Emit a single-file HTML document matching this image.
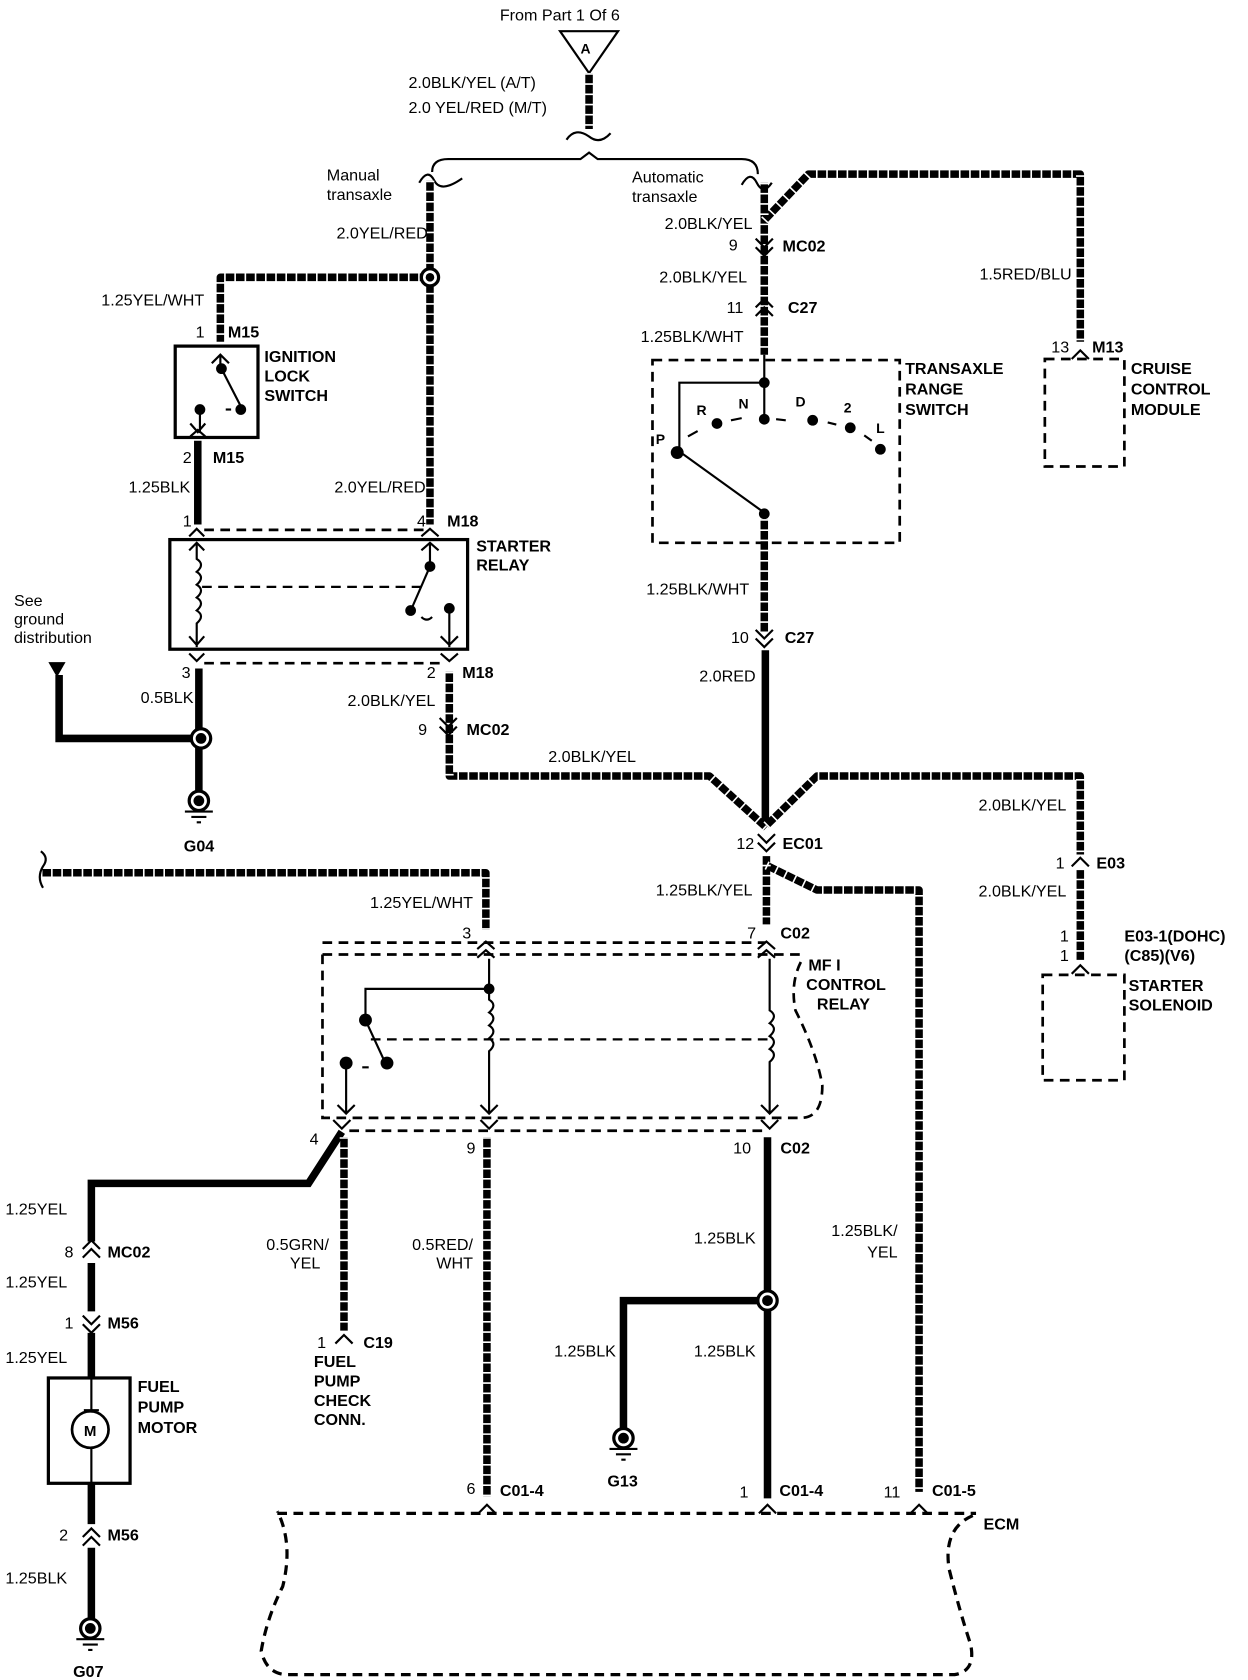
<!DOCTYPE html>
<html><head><meta charset="utf-8"><style>
html,body{margin:0;padding:0;background:#fff}
svg{display:block}
text{font-family:"Liberation Sans",sans-serif;font-size:15px;fill:#000}
.b{font-weight:bold}
.h{fill:none;stroke:#000;stroke-width:7;stroke-linejoin:round}
.hw{fill:none;stroke:#fff;stroke-width:8;stroke-dasharray:1.5 8}
.s{fill:none;stroke:#000;stroke-width:7;stroke-linejoin:miter}
.t{fill:none;stroke:#000;stroke-width:2}
.d{fill:none;stroke:#000;stroke-width:2.5;stroke-dasharray:9 6}
.bx{fill:none;stroke:#000;stroke-width:3}
.c{fill:none;stroke:#000;stroke-width:2}
</style></head><body>
<svg width="1248" height="1680" viewBox="0 0 1161 1563" preserveAspectRatio="none" xmlns="http://www.w3.org/2000/svg">
<!-- top -->
<text x="465" y="19">From Part 1 Of 6</text>
<polygon points="521,29 575,29 548,68" fill="#fff" stroke="#000" stroke-width="2"/>
<text x="540" y="50" class="b" style="font-size:13px">A</text>
<path class="h" d="M548,68 V120"/><path class="hw" d="M548,68 V120"/>
<text x="380" y="82">2.0BLK/YEL (A/T)</text>
<text x="380" y="105">2.0 YEL/RED (M/T)</text>
<path class="t" d="M527,130 q8,-12 21,-3 q10,8 20,-3"/>
<path class="t" d="M402,160 q0,-12 15,-12 H540 l8,-6 l8,6 H690 q15,0 15,14"/>
<path class="t" d="M390,170 q8,-14 14,-2 q6,12 26,-2"/>
<path class="t" d="M690,172 q8,-14 14,-2 q6,12 14,0"/>
<text x="304" y="168">Manual</text><text x="304" y="186">transaxle</text>
<text x="588" y="170">Automatic</text><text x="588" y="188">transaxle</text>

<!-- manual branch -->
<path class="h" d="M400,168 V488 M400,258 H205 V318"/><path class="hw" d="M400,168 V488 M400,258 H205 V318"/>
<circle cx="400" cy="258" r="8" fill="#fff" stroke="#000" stroke-width="3"/><circle cx="400" cy="258" r="4"/>
<text x="398" y="222" text-anchor="end">2.0YEL/RED</text>
<text x="190" y="284" text-anchor="end">1.25YEL/WHT</text>
<text x="182" y="314">1</text><text x="212" y="314" class="b">M15</text>
<rect x="163" y="322" width="77" height="85" class="bx"/>
<path class="c" d="M197,338 l8,-8 l8,8 M205,330 V340"/>
<circle cx="206" cy="343" r="5"/><path class="c" d="M206,343 L224,378"/><circle cx="224" cy="381" r="5"/>
<circle cx="186" cy="381" r="5"/><path class="c" d="M215,381 h-5"/>
<path class="c" d="M186,381 V403 M177,394 l7,8 l7,-8 M177,406 l7,-6 l7,6"/>
<text x="246" y="337" class="b">IGNITION</text><text x="246" y="355" class="b">LOCK</text><text x="246" y="373" class="b">SWITCH</text>
<text x="170" y="431">2</text><text x="198" y="431" class="b">M15</text>
<path class="s" d="M184,410 V488"/>
<text x="177" y="458" text-anchor="end">1.25BLK</text>
<text x="396" y="458" text-anchor="end">2.0YEL/RED</text>
<text x="170" y="490">1</text><text x="388" y="490">4</text><text x="416" y="490" class="b">M18</text>
<path class="d" d="M190,493 H395"/>
<path class="c" d="M176,499 l7,-7 l7,7 M392,499 l8,-7 l8,7"/>
<rect x="158" y="502" width="277" height="102" class="bx"/>
<path class="c" d="M176,512 l7,-7 l7,7 M183,505 V520 q8,5 0,12 q8,5 0,12 q8,5 0,12 q8,5 0,12 q8,5 0,12 V602 M176,592 l7,8 l7,-8"/>
<path class="d" d="M188,546 H395" style="stroke-width:2"/>
<path class="c" d="M392,512 l8,-7 l8,7 M400,505 V525"/>
<circle cx="400" cy="527" r="5"/><path class="c" d="M400,527 L383,566"/><circle cx="382" cy="568" r="5"/>
<circle cx="418" cy="566" r="5"/><path class="c" d="M392,574 q5,5 10,0"/>
<path class="c" d="M418,566 V602 M410,592 l8,8 l8,-8"/>
<text x="443" y="513" class="b">STARTER</text><text x="443" y="531" class="b">RELAY</text>
<path class="c" d="M176,608 l7,7 l7,-7 M410,608 l8,7 l8,-7"/>
<path class="d" d="M190,617 H410"/>
<text x="169" y="631">3</text><text x="397" y="631">2</text><text x="430" y="631" class="b">M18</text>
<path class="s" d="M185,622 V740 M185,687 H55 V628"/>
<polygon points="45,616 61,616 53,630"/>
<circle cx="187" cy="687" r="9" fill="#fff" stroke="#000" stroke-width="3"/><circle cx="187" cy="687" r="5"/>
<text x="13" y="564">See</text><text x="13" y="581">ground</text><text x="13" y="598">distribution</text>
<text x="180" y="654" text-anchor="end">0.5BLK</text>
<circle cx="185" cy="745" r="9" fill="#fff" stroke="#000" stroke-width="3"/><circle cx="185" cy="745" r="5"/>
<path class="c" d="M172,755 H198 M178,760 H192 M183,765 H187"/>
<text x="171" y="792" class="b">G04</text>
<!-- M18 down -->
<path class="h" d="M418,625 V722 H660 L713,770"/><path class="hw" d="M418,625 V722 H660 L713,770"/>
<text x="405" y="657" text-anchor="end">2.0BLK/YEL</text>
<text x="389" y="684">9</text><text x="434" y="684" class="b">MC02</text>
<path class="c" d="M409,668 l8,8 l8,-8 M409,676 l8,8 l8,-8"/>
<text x="510" y="709">2.0BLK/YEL</text>

<!-- automatic -->
<path class="h" d="M711,170 V330 M711,205 L752,162 H1005 V318"/><path class="hw" d="M711,170 V330 M711,205 L752,162 H1005 V318"/>
<text x="700" y="213" text-anchor="end">2.0BLK/YEL</text>
<text x="678" y="233">9</text><text x="728" y="234" class="b">MC02</text>
<path class="c" d="M703,222 l8,8 l8,-8 M703,230 l8,8 l8,-8"/>
<text x="695" y="263" text-anchor="end">2.0BLK/YEL</text>
<text x="676" y="291">11</text><text x="733" y="291" class="b">C27</text>
<path class="c" d="M703,286 l8,-8 l8,8 M703,294 l8,-8 l8,8"/>
<text x="596" y="318">1.25BLK/WHT</text>
<text x="997" y="260" text-anchor="end">1.5RED/BLU</text>
<text x="978" y="328">13</text><text x="1016" y="328" class="b">M13</text>
<path class="c" d="M997,334 l8,-8 l8,8"/>
<path class="d" d="M972,334 H1046 V434 H972 Z"/>
<text x="1052" y="348" class="b">CRUISE</text><text x="1052" y="367" class="b">CONTROL</text><text x="1052" y="386" class="b">MODULE</text>
<!-- range switch -->
<path class="d" d="M607,335 H837 V505 H607 Z"/>
<path class="c" d="M711,330 V390 M711,356 H632 V420 L711,477 V485"/>
<circle cx="711" cy="356" r="5"/><circle cx="711" cy="390" r="5"/>
<circle cx="630" cy="421" r="6"/><circle cx="667" cy="394" r="5"/><circle cx="756" cy="391" r="5"/><circle cx="791" cy="398" r="5"/><circle cx="819" cy="418" r="5"/><circle cx="711" cy="478" r="5"/>
<path class="c" d="M640,406 l9,-5 M680,391 l10,-2 M722,390 l9,1 M770,393 l8,2 M804,405 l7,5"/>
<text x="610" y="413" class="b" style="font-size:13px">P</text>
<text x="648" y="386" class="b" style="font-size:13px">R</text>
<text x="687" y="380" class="b" style="font-size:13px">N</text>
<text x="740" y="378" class="b" style="font-size:13px">D</text>
<text x="785" y="384" class="b" style="font-size:13px">2</text>
<text x="815" y="403" class="b" style="font-size:13px">L</text>
<text x="842" y="348" class="b">TRANSAXLE</text><text x="842" y="367" class="b">RANGE</text><text x="842" y="386" class="b">SWITCH</text>
<path class="h" d="M711,483 V588"/><path class="hw" d="M711,483 V588"/>
<text x="697" y="553" text-anchor="end">1.25BLK/WHT</text>
<text x="680" y="598">10</text><text x="730" y="598" class="b">C27</text>
<path class="c" d="M703,586 l8,8 l8,-8 M703,594 l8,8 l8,-8"/>
<path class="s" d="M712,605 V768"/>
<text x="703" y="634" text-anchor="end">2.0RED</text>
<!-- right branch -->
<path class="h" d="M713,768 L760,722 H1005 V795"/><path class="hw" d="M713,768 L760,722 H1005 V795"/>
<text x="992" y="754" text-anchor="end">2.0BLK/YEL</text>
<text x="982" y="808">1</text><text x="1020" y="808" class="b">E03</text>
<path class="c" d="M997,806 l8,-8 l8,8"/>
<path class="h" d="M1005,808 V893"/><path class="hw" d="M1005,808 V893"/>
<text x="992" y="834" text-anchor="end">2.0BLK/YEL</text>
<text x="986" y="876">1</text><text x="1046" y="876" class="b">E03-1(DOHC)</text>
<text x="986" y="894">1</text><text x="1046" y="894" class="b">(C85)(V6)</text>
<path class="c" d="M997,906 l8,-8 l8,8"/>
<path class="d" d="M970,907 H1046 V1005 H970 Z"/>
<text x="1050" y="922" class="b">STARTER</text><text x="1050" y="940" class="b">SOLENOID</text>
<!-- EC01 -->
<text x="685" y="790">12</text><text x="728" y="790" class="b">EC01</text>
<path class="c" d="M705,776 l8,8 l8,-8 M705,784 l8,8 l8,-8"/>
<path class="h" d="M713,795 V860 M713,805 L760,828 H855 V1388"/><path class="hw" d="M713,795 V860 M713,805 L760,828 H855 V1388"/>
<text x="700" y="833" text-anchor="end">1.25BLK/YEL</text>
<text x="695" y="873">7</text><text x="726" y="873" class="b">C02</text>
<text x="835" y="1150" text-anchor="end">1.25BLK/</text><text x="835" y="1170" text-anchor="end">YEL</text>
<!-- MFI relay -->
<path class="h" d="M38,812 H452 V865"/><path class="hw" d="M38,812 H452 V865"/>
<path class="t" d="M40,826 q-6,-10 0,-20 q6,-8 -2,-14"/>
<text x="440" y="845" text-anchor="end">1.25YEL/WHT</text>
<text x="430" y="873">3</text>
<path class="d" d="M300,877 H712"/>
<path class="d" d="M300,888 H745 M300,888 V1040 H745"/>
<path class="d" d="M745,895 q-10,20 -5,45 q20,40 25,70 q0,30 -20,30"/>
<path class="c" d="M444,883 l8,-7 l8,7 M444,891 l8,-7 l8,7 M705,883 l8,-7 l8,7 M705,891 l8,-7 l8,7"/>
<path class="c" d="M455,892 V930 q8,5 0,12 q8,5 0,12 q8,5 0,12 q8,5 0,12 V1035 M447,1028 l8,8 l8,-8"/>
<path class="c" d="M716,892 V940 q8,5 0,12 q8,5 0,12 q8,5 0,12 q8,5 0,12 V1035 M708,1028 l8,8 l8,-8"/>
<path class="c" d="M455,920 H340 V948"/><circle cx="455" cy="920" r="5"/>
<circle cx="340" cy="949" r="6"/><path class="c" d="M340,949 L358,988"/><circle cx="360" cy="989" r="6"/>
<circle cx="322" cy="989" r="6"/><path class="c" d="M343,993 h-6"/>
<path class="c" d="M322,989 V1035 M314,1028 l8,8 l8,-8"/>
<path class="d" d="M345,967 H716" style="stroke-width:2"/>
<path class="c" d="M310,1042 l8,8 l8,-8 M447,1042 l8,8 l8,-8 M708,1042 l8,8 l8,-8"/>
<path class="d" d="M325,1052 H712"/>
<text x="752" y="903" class="b">MF I</text><text x="750" y="921" class="b">CONTROL</text><text x="760" y="939" class="b">RELAY</text>
<text x="288" y="1065">4</text><text x="434" y="1073">9</text><text x="682" y="1073">10</text><text x="726" y="1073" class="b">C02</text>
<!-- fuel pump -->
<path class="s" d="M318,1053 L287,1101 H85 V1155 M85,1175 V1220 M85,1240 V1282"/>
<text x="5" y="1130">1.25YEL</text>
<text x="60" y="1170">8</text><text x="100" y="1170" class="b">MC02</text>
<path class="c" d="M77,1162 l8,-8 l8,8 M77,1170 l8,-8 l8,8"/>
<text x="5" y="1198">1.25YEL</text>
<text x="60" y="1236">1</text><text x="100" y="1236" class="b">M56</text>
<path class="c" d="M77,1224 l8,8 l8,-8 M77,1232 l8,8 l8,-8"/>
<text x="5" y="1268">1.25YEL</text>
<rect x="45" y="1282" width="76" height="98" class="bx"/>
<path class="c" d="M85,1282 V1312 M78,1312 H92 M85,1348 V1380"/>
<circle cx="84" cy="1330" r="17" fill="#fff" stroke="#000" stroke-width="2.5"/>
<text x="78" y="1336" class="b" style="font-size:14px">M</text>
<text x="128" y="1295" class="b">FUEL</text><text x="128" y="1314" class="b">PUMP</text><text x="128" y="1333" class="b">MOTOR</text>
<path class="s" d="M85,1380 V1418 M85,1440 V1508"/>
<text x="55" y="1433">2</text><text x="100" y="1433" class="b">M56</text>
<path class="c" d="M77,1430 l8,-8 l8,8 M77,1438 l8,-8 l8,8"/>
<text x="5" y="1473">1.25BLK</text>
<circle cx="84" cy="1515" r="9" fill="#fff" stroke="#000" stroke-width="3"/><circle cx="84" cy="1515" r="5"/>
<path class="c" d="M71,1525 H97 M77,1530 H91 M82,1535 H86"/>
<text x="68" y="1560" class="b">G07</text>
<!-- GRN/YEL -->
<path class="h" d="M320,1058 V1238"/><path class="hw" d="M320,1058 V1238"/>
<text x="306" y="1163" text-anchor="end">0.5GRN/</text><text x="298" y="1180" text-anchor="end">YEL</text>
<text x="295" y="1254">1</text><text x="338" y="1254" class="b">C19</text>
<path class="c" d="M312,1250 l8,-8 l8,8"/>
<text x="292" y="1272" class="b">FUEL</text><text x="292" y="1290" class="b">PUMP</text><text x="292" y="1308" class="b">CHECK</text><text x="292" y="1326" class="b">CONN.</text>
<!-- RED/WHT -->
<path class="h" d="M453,1058 V1392"/><path class="hw" d="M453,1058 V1392"/>
<text x="440" y="1163" text-anchor="end">0.5RED/</text><text x="440" y="1180" text-anchor="end">WHT</text>
<text x="434" y="1390">6</text><text x="465" y="1392" class="b">C01-4</text>
<!-- BLK -->
<path class="s" d="M714,1058 V1394 M714,1210 H580 V1330"/>
<circle cx="714" cy="1210" r="9" fill="#fff" stroke="#000" stroke-width="3"/><circle cx="714" cy="1210" r="5"/>
<text x="703" y="1157" text-anchor="end">1.25BLK</text>
<text x="573" y="1262" text-anchor="end">1.25BLK</text>
<text x="703" y="1262" text-anchor="end">1.25BLK</text>
<circle cx="580" cy="1338" r="9" fill="#fff" stroke="#000" stroke-width="3"/><circle cx="580" cy="1338" r="5"/>
<path class="c" d="M567,1348 H593 M573,1353 H587 M578,1358 H582"/>
<text x="565" y="1383" class="b">G13</text>
<text x="688" y="1393">1</text><text x="725" y="1392" class="b">C01-4</text>
<text x="822" y="1393">11</text><text x="867" y="1392" class="b">C01-5</text>
<!-- ECM -->
<path class="c" d="M445,1408 l8,-8 l8,8 M706,1408 l8,-8 l8,8 M847,1408 l8,-8 l8,8"/>
<path class="d" d="M258,1408 H908 M905,1410 q-28,12 -22,50 q10,40 20,70 q5,25 -15,28 H268 q-20,0 -25,-22 q5,-30 20,-60 q10,-40 -5,-70" style="stroke-width:3"/>
<text x="915" y="1423" class="b">ECM</text>
</svg>
</body></html>
